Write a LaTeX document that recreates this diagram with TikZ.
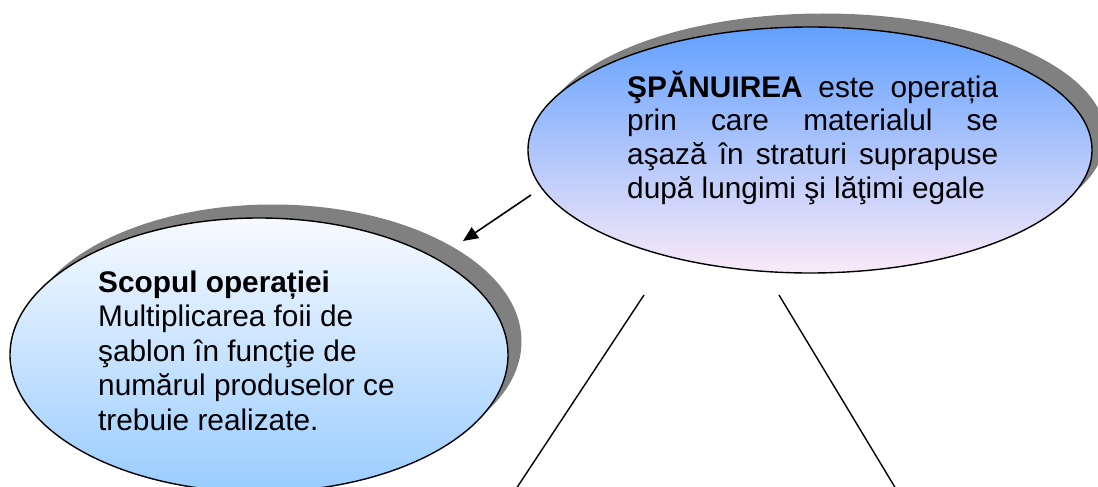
\documentclass[tikz,border=0pt]{standalone}
\usepackage{fontspec}
\setmainfont{Liberation Sans}
\usetikzlibrary{shapes.geometric,shadows,arrows.meta}
\definecolor{topblue}{RGB}{98,160,255}
\definecolor{pinkish}{RGB}{250,234,248}
\definecolor{paleblue}{RGB}{247,250,255}
\definecolor{skyblue}{RGB}{153,204,255}
\definecolor{shadowgray}{RGB}{128,128,128}
\tikzset{
  bubble/.style={ellipse, draw=black, line width=1.4pt, inner sep=0pt},
  bubbleshadow/.style={drop shadow={shadow xshift=13.5pt, shadow yshift=13.5pt, fill=shadowgray, opacity=1}},
  bubbletext/.style={anchor=base west, inner sep=0pt},
  connector/.style={line width=1.4pt},
  arrowline/.style={line width=1.6pt, -{Triangle[length=15pt,width=13pt]}},
}
\begin{document}
\begin{tikzpicture}[x=1pt,y=-1pt]
\useasboundingbox (0,0) rectangle (1098,487);
\clip (0,0) rectangle (1098,487);
% definition bubble
\node[bubble, bubbleshadow, minimum width=564pt, minimum height=246pt,
      top color=topblue, bottom color=pinkish] (def) at (810,150) {};
% purpose bubble
\node[bubble, bubbleshadow, minimum width=498pt, minimum height=274pt,
      top color=paleblue, bottom color=skyblue] (scop) at (259,355) {};
% texts
\node[bubbletext, font=\fontsize{29.8}{33.7}\selectfont] (deftext) at (627,97)
  {\parbox[t]{371pt}{\makebox[371pt][s]{\textbf{ŞPĂNUIREA} este operația}\\
   \makebox[371pt][s]{prin care materialul se}\\
   \makebox[371pt][s]{aşază în straturi suprapuse}\\
   după lungimi şi lăţimi egale}};
\node[bubbletext, font=\fontsize{29.8}{34.5}\selectfont] (scoptext) at (98,292)
  {\parbox[t]{330pt}{\textbf{Scopul operației}\\
   Multiplicarea foii de\\
   şablon în funcţie de\\
   numărul produselor ce\\
   trebuie realizate.}};
% connectors
\coordinate (arrS) at (531,195);
\coordinate (arrE) at (463,241);
\draw[arrowline] (arrS) -- (arrE);
\coordinate (l1top) at (644,295);
\coordinate (l1bot) at (516,489);
\coordinate (l2top) at (779,295);
\coordinate (l2bot) at (896,489);
\draw[connector] (l1top) -- (l1bot);
\draw[connector] (l2top) -- (l2bot);
\end{tikzpicture}
\end{document}
